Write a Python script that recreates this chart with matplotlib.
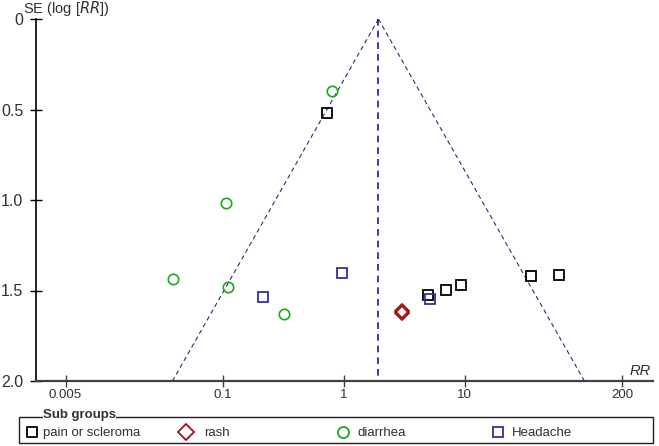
import numpy as np
import matplotlib
matplotlib.use("Agg")
import matplotlib.pyplot as plt
import matplotlib.patches as mpatches
from matplotlib.lines import Line2D

plt.rcParams['font.family'] = ['Liberation Sans', 'DejaVu Sans']

# data (RR, SE of log RR)
pain_rr = [0.72, 5.0, 6.97, 9.21, 35.1, 59.8]
pain_se = [0.522, 1.525, 1.498, 1.472, 1.422, 1.413]
headache_rr = [0.214, 0.97, 5.14]
headache_se = [1.535, 1.403, 1.547]
diarrhea_rr = [0.79, 0.106, 0.0384, 0.111, 0.319]
diarrhea_se = [0.397, 1.019, 1.435, 1.481, 1.629]
rash_rr = [3.0, 3.05]
rash_se = [1.612, 1.622]

pooled_rr = 1.93
se_max = 2.0
x_ticks = [0.005, 0.1, 1, 10, 200]
x_ticklabels = ['0.005', '0.1', '1', '10', '200']
y_ticks = [0, 0.5, 1.0, 1.5, 2.0]
y_ticklabels = ['0', '0.5', '1.0', '1.5', '2.0']

W, H = 659, 446
fig = plt.figure(figsize=(W / 100, H / 100), dpi=100)
ax = fig.add_axes([36 / W, 1 - 381 / H, (653 - 36) / W, (381 - 19) / H])

# funnel
se_line = np.array([0, se_max])
ax.plot(pooled_rr * np.exp(-1.96 * se_line), se_line, ls=(0, (4, 3)), color='#2a2a7a', lw=0.8)
ax.plot(pooled_rr * np.exp(1.96 * se_line), se_line, ls=(0, (4, 3)), color='#2a2a7a', lw=0.8)
ax.plot([pooled_rr, pooled_rr], se_line, ls=(0, (4, 3)), color='#1a1a9a', lw=1.2)

ax.plot(diarrhea_rr, diarrhea_se, 'o', ms=7.5, mfc='none', mec='#1aaa1a', mew=1.2, ls='none')
ax.plot(pain_rr, pain_se, 's', ms=7, mfc='none', mec='black', mew=1.3, ls='none')
ax.plot(headache_rr, headache_se, 's', ms=7, mfc='none', mec='#3030a0', mew=1.3, ls='none')
ax.plot(rash_rr, rash_se, 'D', ms=7.5, mfc='none', mec='#a01010', mew=1.3, ls='none')

ax.set_xscale('log')
ax.set_xlim(10 ** -2.545, 10 ** 2.555)
ax.set_ylim(2.0, 0)
ax.set_xticks(x_ticks)
ax.set_xticklabels(x_ticklabels, fontsize=9.5, color='#303030')
ax.xaxis.set_minor_locator(plt.NullLocator())
ax.set_yticks(y_ticks)
ax.set_yticklabels(y_ticklabels, fontsize=11.5, color='#303030')
ax.tick_params(axis='x', direction='inout', length=8, width=1, color='#404040', pad=2)
ax.tick_params(axis='y', direction='inout', length=8, width=1, color='black', pad=5)
ax.spines['top'].set_visible(False)
ax.spines['right'].set_visible(False)
ax.spines['bottom'].set_color('#404040')
ax.spines['bottom'].set_linewidth(1.6)
ax.spines['left'].set_linewidth(1.2)

fig.text(23 / W, 1 - 8 / H, 'SE (log [$\\it{RR}$])', fontsize=10.5, color='#303030', va='center', ha='left')
fig.text(640 / W, 1 - 371 / H, 'RR', fontsize=10.5, style='italic', color='#303030', va='center', ha='center')

# legend box, drawn by hand so it looks like the fieldset in the original
fig.add_artist(mpatches.Rectangle((19 / W, 1 - 443 / H), 634 / W, 26 / H, transform=fig.transFigure,
                                  facecolor='white', edgecolor='#202020', lw=1.0))
fig.text(43 / W, 1 - 415 / H, 'Sub groups', fontsize=9.5, fontweight='bold', color='#303030',
         va='center', ha='left', zorder=10,
         bbox=dict(facecolor='white', edgecolor='none', pad=0.3))
labels = ['pain or scleroma', 'rash', 'diarrhea', 'Headache']
markers = ['s', 'D', 'o', 's']
colors_ = ['black', '#a01010', '#1aaa1a', '#3030a0']
sizes = [7, 8, 8, 7]
mark_x = [32, 186, 343, 498]
text_x = [43, 204, 358, 512]
for lab, m, c, s, mx, tx in zip(labels, markers, colors_, sizes, mark_x, text_x):
    fig.add_artist(Line2D([mx / W], [1 - 432 / H], transform=fig.transFigure, marker=m, ls='none',
                          ms=s, mfc='none', mec=c, mew=1.3))
    fig.text(tx / W, 1 - 433 / H, lab, fontsize=9.5, color='#303030', va='center', ha='left')

plt.savefig('out.png', dpi=100, facecolor='white')
plt.close()
